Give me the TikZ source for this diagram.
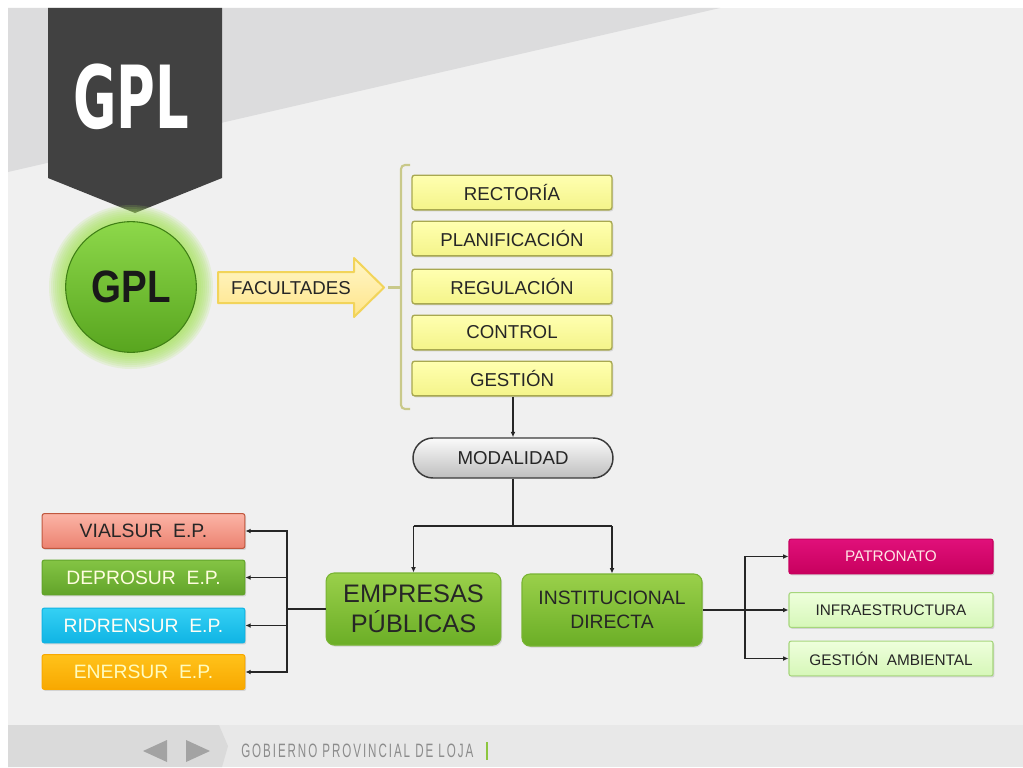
\documentclass[tikz,border=0pt]{standalone}
\usepackage{fontspec}
\setmainfont{Liberation Sans}
\newfontfamily\bannerfont{DejaVu Sans}
\usetikzlibrary{arrows.meta,shadows,shapes.misc,calc}
\definecolor{slidebg}{HTML}{F0F0F0}
\definecolor{topgrey}{HTML}{DCDCDD}
\definecolor{bannerc}{HTML}{414141}
\definecolor{footbg}{HTML}{E8E8E8}
\definecolor{footdark}{HTML}{DADADA}
\definecolor{footgrey}{HTML}{8C8C8C}
\definecolor{footgreen}{HTML}{8DC63F}
\definecolor{ballTop}{HTML}{8DD84A}
\definecolor{ballBot}{HTML}{58A51F}
\definecolor{ballEdge}{HTML}{3F7F15}
\definecolor{glowc}{HTML}{A8E45C}
\definecolor{arrTop}{HTML}{FFF6C8}
\definecolor{arrBot}{HTML}{FFE58A}
\definecolor{arrEdge}{HTML}{F2D45A}
\definecolor{brk}{HTML}{C9C98A}
\definecolor{facTop}{HTML}{FFFFB0}
\definecolor{facBot}{HTML}{F4F48A}
\definecolor{facEdge}{HTML}{A8A850}
\definecolor{modTop}{HTML}{FAFAFA}
\definecolor{modBot}{HTML}{BEBEBE}
\definecolor{modEdge}{HTML}{3A3A3A}
\definecolor{grTop}{HTML}{9AD04A}
\definecolor{grBot}{HTML}{6BAE26}
\definecolor{grEdge}{HTML}{78B432}
\definecolor{vialTop}{HTML}{FBB4A6}
\definecolor{vialBot}{HTML}{EC8270}
\definecolor{vialEdge}{HTML}{C0583F}
\definecolor{depTop}{HTML}{84C444}
\definecolor{depBot}{HTML}{62A42A}
\definecolor{ridTop}{HTML}{34D0F4}
\definecolor{ridBot}{HTML}{10B4E4}
\definecolor{eneTop}{HTML}{FFC21A}
\definecolor{eneBot}{HTML}{F8A800}
\definecolor{patTop}{HTML}{E0107A}
\definecolor{patBot}{HTML}{C8005E}
\definecolor{lgTop}{HTML}{EEFFDC}
\definecolor{lgBot}{HTML}{D6F7B8}
\definecolor{lgEdge}{HTML}{A6D67C}
\definecolor{linec}{HTML}{262626}
\definecolor{textdark}{HTML}{262626}
\tikzset{
  sh/.style={drop shadow={opacity=0.25,shadow xshift=1pt,shadow yshift=-1.2pt}},
  facbox/.style={draw=facEdge, line width=1pt, top color=facTop, bottom color=facBot,
    rounded corners=2pt, minimum width=150pt, minimum height=26pt, inner sep=0pt,
    font=\fontsize{14}{15}\selectfont, text=textdark, sh},
  modbox/.style={rounded rectangle, draw=modEdge, line width=1.1pt, top color=modTop,
    bottom color=modBot, minimum width=150pt, minimum height=30pt, inner sep=0pt,
    font=\fontsize{14}{15}\selectfont, text=textdark},
  greenbox/.style={draw=grEdge, line width=0.8pt, top color=grTop, bottom color=grBot,
    rounded corners=6pt, minimum width=131pt, minimum height=54pt, inner sep=0pt,
    align=center, text=textdark, sh},
  epbox/.style={line width=0.8pt, rounded corners=1.5pt, minimum width=152pt,
    minimum height=26pt, inner sep=0pt, font=\fontsize{14.5}{16}\selectfont, sh},
  rbox/.style={line width=0.8pt, rounded corners=1.5pt, minimum width=153pt,
    minimum height=26pt, inner sep=0pt, font=\fontsize{11.5}{13}\selectfont, sh},
  conn/.style={draw=linec, line width=0.9pt, -{Latex[length=4pt,width=3.6pt]}},
  trunk/.style={draw=linec, line width=1.5pt},
}
\begin{document}
\begin{tikzpicture}[x=0.75pt,y=-0.75pt]
\useasboundingbox (0,0) rectangle (1023,767);
% background
\fill[white] (0,0) rectangle (1023,767);
\fill[slidebg] (8,8) rectangle (1023,767);
\fill[topgrey] (8,8) -- (720,8) -- (8,172) -- cycle;
\fill[footbg] (8,725) rectangle (1023,767);
\fill[footdark] (8,725) -- (219,725) -- (228,746) -- (222,767) -- (8,767) -- cycle;
% banner
\fill[bannerc] (48,8) -- (222,8) -- (222,178) -- (135,213) -- (48,178) -- cycle;
\node[text=white, inner sep=0pt] (bannertxt) at (131,97)
  {\scalebox{0.62}[1.02]{\bannerfont\bfseries\fontsize{64}{64}\selectfont GPL}};
% footer
\fill[footgrey!80] (143,751) -- (167,740) -- (167,762) -- cycle;
\fill[footgrey!80] (210,751) -- (186,740) -- (186,762) -- cycle;
\node[anchor=west, text=footgrey, inner sep=0pt] (foottxt) at (241,751)
  {\scalebox{0.6}[1]{\fontsize{14.5}{15}\selectfont G\,O\,B\,I\,E\,R\,N\,O\ \,P\,R\,O\,V\,I\,N\,C\,I\,A\,L\ \,D\,E\ \,L\,O\,J\,A}};
\fill[footgreen] (485.5,742) rectangle (487.5,760);
% green ball with glow
\foreach \r in {82,80,78,76,74,72,70,68}
  \fill[glowc, opacity=0.16] (131,287) circle[radius=\r*0.75pt];
\node[circle, draw=ballEdge, line width=0.8pt, top color=ballTop, bottom color=ballBot,
  minimum size=98pt, inner sep=0pt] (gpl) at (131,287)
  {\scalebox{0.85}[1]{\fontsize{34}{34}\selectfont\bfseries\color{black!90} GPL}};
% FACULTADES arrow
\filldraw[draw=arrEdge, line width=1.5pt, top color=arrTop, bottom color=arrBot, line join=round]
  (218,272) -- (354,272) -- (354,258) -- (384,287.5) -- (354,317) -- (354,303) -- (218,303) -- cycle;
\node[text=textdark, font=\fontsize{14}{15}\selectfont, inner sep=0pt] (facu) at (291,288) {FACULTADES};
% bracket
\draw[brk, line width=1.6pt, rounded corners=3pt] (410,165) -- (401,165) -- (401,409) -- (410,409);
\draw[brk, line width=1.6pt] (401,287.5) -- (388,287.5);
% faculties
\node[facbox] (rect) at (512,192.5) {RECTORÍA};
\node[facbox] (plan) at (512,238.5) {PLANIFICACIÓN};
\node[facbox] (regu) at (512,286.5) {REGULACIÓN};
\node[facbox] (ctrl) at (512,332.5) {CONTROL};
\node[facbox] (gest) at (512,378.5) {GESTIÓN};
% modalidad
\node[modbox] (moda) at (513,458) {MODALIDAD};
% main branches
\node[greenbox, font=\fontsize{19}{22.5}\selectfont] (emp) at (413.5,609) {EMPRESAS\\PÚBLICAS};
\node[greenbox, minimum width=135pt, font=\fontsize{14.5}{18.5}\selectfont] (inst) at (612,610) {INSTITUCIONAL\\DIRECTA};
% empresas publicas
\node[epbox, draw=vialEdge, top color=vialTop, bottom color=vialBot, text=textdark] (vial) at (143.5,531) {VIALSUR\ \ E.P.};
\node[epbox, draw=depBot, top color=depTop, bottom color=depBot, text=yellow!12] (depr) at (143.5,577.5) {DEPROSUR\ \ E.P.};
\node[epbox, draw=ridBot, top color=ridTop, bottom color=ridBot, text=white!96!yellow] (ridr) at (143.5,625.5) {RIDRENSUR\ \ E.P.};
\node[epbox, draw=eneBot, top color=eneTop, bottom color=eneBot, text=yellow!25] (ener) at (143.5,672) {ENERSUR\ \ E.P.};
% institucional
\node[rbox, draw=patBot, top color=patTop, bottom color=patBot, text=pink!40] (patr) at (891,556.5) {PATRONATO};
\node[rbox, draw=lgEdge, top color=lgTop, bottom color=lgBot, text=textdark] (infr) at (891,610) {INFRAESTRUCTURA};
\node[rbox, draw=lgEdge, top color=lgTop, bottom color=lgBot, text=textdark] (gamb) at (891,658.5) {GESTIÓN\ \ AMBIENTAL};
% connectors
\draw[conn] (gest.south -| moda.north) -- (moda.north);
\coordinate (split) at (513,526);
\draw[trunk] (moda.south) -- (split);
\draw[trunk] (split -| emp.north) -- (split -| inst.north);
\draw[conn] (split -| emp.north) -- (emp.north);
\draw[conn] (split -| inst.north) -- (inst.north);
\coordinate (lbus) at (287,609);
\draw[trunk] (emp.west) -- (lbus);
\draw[conn] (lbus) |- (vial.east);
\draw[conn] (lbus) |- (depr.east);
\draw[conn] (lbus) |- (ridr.east);
\draw[conn] (lbus) |- (ener.east);
\coordinate (rbus) at (745,610);
\draw[trunk] (inst.east) -- (rbus);
\draw[conn] (rbus) |- (patr.west);
\draw[conn] (rbus) -- (infr.west);
\draw[conn] (rbus) |- (gamb.west);
\end{tikzpicture}
\end{document}
